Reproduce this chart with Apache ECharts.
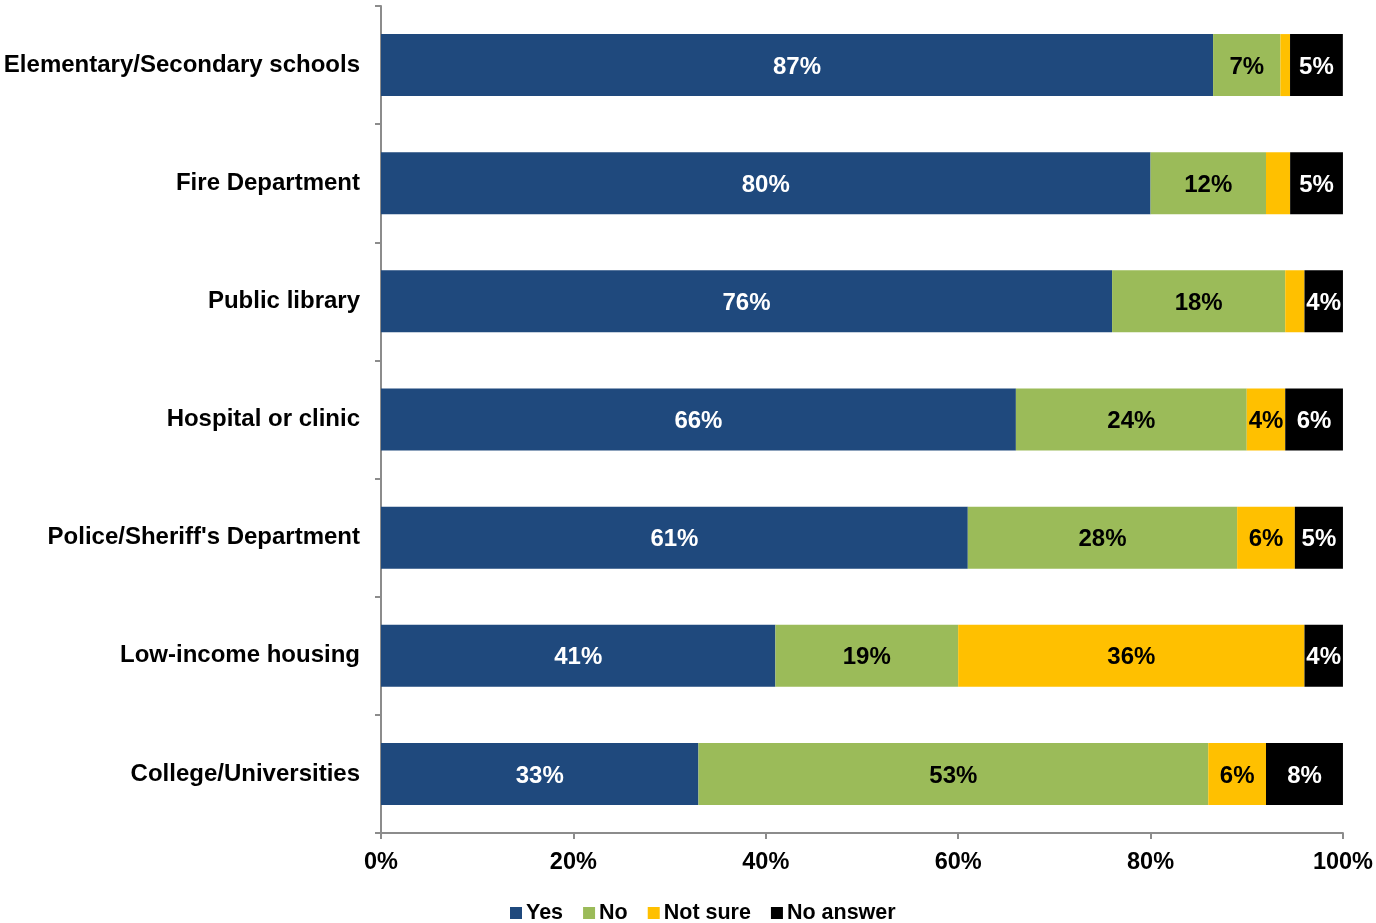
<!DOCTYPE html>
<html>
<head>
<meta charset="utf-8">
<script src="https://cdn.jsdelivr.net/npm/echarts@6/dist/echarts.min.js"></script>
<style>
html,body{margin:0;padding:0;background:#fff;}
#chart{width:1376px;height:923px;}
</style>
</head>
<body>
<div id="chart"></div>
<script>
const categories = [
  "Elementary/Secondary schools",
  "Fire Department",
  "Public library",
  "Hospital or clinic",
  "Police/Sheriff's Department",
  "Low-income housing",
  "College/Universities"
];
const yesValues      = [86.5, 80, 76, 66, 61, 41, 33];
const noValues       = [7, 12, 18, 24, 28, 19, 53];
const notSureValues  = [1, 2.51, 2, 4, 6, 36, 6];
const noAnswerValues = [5.49, 5.49, 4, 6, 5, 4, 8];
const xTicks = [0, 20, 40, 60, 80, 100];

const FONT = "'Liberation Sans', Arial, sans-serif";
const AXIS_GRAY = '#8c8c8c';

function mkSeries(name, data, color, labelColor) {
  return {
    name: name,
    type: 'bar',
    stack: 'total',
    data: data,
    barWidth: 62,
    itemStyle: { color: color },
    label: {
      show: true,
      position: 'inside',
      offset: [0, 2],
      color: labelColor,
      fontFamily: FONT,
      fontWeight: 'bold',
      fontSize: 24,
      formatter: p => (p.value >= 3 ? Math.round(p.value) + '%' : '')
    },
    emphasis: { disabled: true }
  };
}

const chart = echarts.init(document.getElementById('chart'), null, { renderer: 'canvas' });
chart.setOption({
  animation: false,
  backgroundColor: '#ffffff',
  textStyle: { fontFamily: FONT },
  grid: { left: 381, right: 31, top: 6, bottom: 90, containLabel: false },
  legend: {
    data: ['Yes', 'No', 'Not sure', 'No answer'],
    left: 505,
    top: 897,
    icon: 'rect',
    itemWidth: 12,
    itemHeight: 12,
    itemGap: 20,
    textStyle: { color: '#000', fontFamily: FONT, fontWeight: 'bold', fontSize: 21.5, padding: [0, 0, 0, -1] }
  },
  xAxis: {
    type: 'value',
    min: xTicks[0],
    max: xTicks[xTicks.length - 1],
    interval: xTicks[1] - xTicks[0],
    axisLine: { show: true, lineStyle: { color: AXIS_GRAY, width: 2 } },
    axisTick: { show: true, length: 6, lineStyle: { color: AXIS_GRAY, width: 2 } },
    splitLine: { show: false },
    axisLabel: {
      color: '#000', fontFamily: FONT, fontWeight: 'bold', fontSize: 23.5, margin: 18,
      formatter: '{value}%'
    }
  },
  yAxis: {
    type: 'category',
    data: categories,
    inverse: true,
    axisLine: { show: true, lineStyle: { color: AXIS_GRAY, width: 2 } },
    axisTick: { show: true, length: 6, lineStyle: { color: AXIS_GRAY, width: 2 } },
    axisLabel: { color: '#000', fontFamily: FONT, fontWeight: 'bold', fontSize: 24, margin: 21 }
  },
  series: [
    mkSeries('Yes', yesValues, '#1F497D', '#ffffff'),
    mkSeries('No', noValues, '#9BBB59', '#000000'),
    mkSeries('Not sure', notSureValues, '#FFC000', '#000000'),
    mkSeries('No answer', noAnswerValues, '#000000', '#ffffff')
  ]
});
</script>
</body>
</html>
